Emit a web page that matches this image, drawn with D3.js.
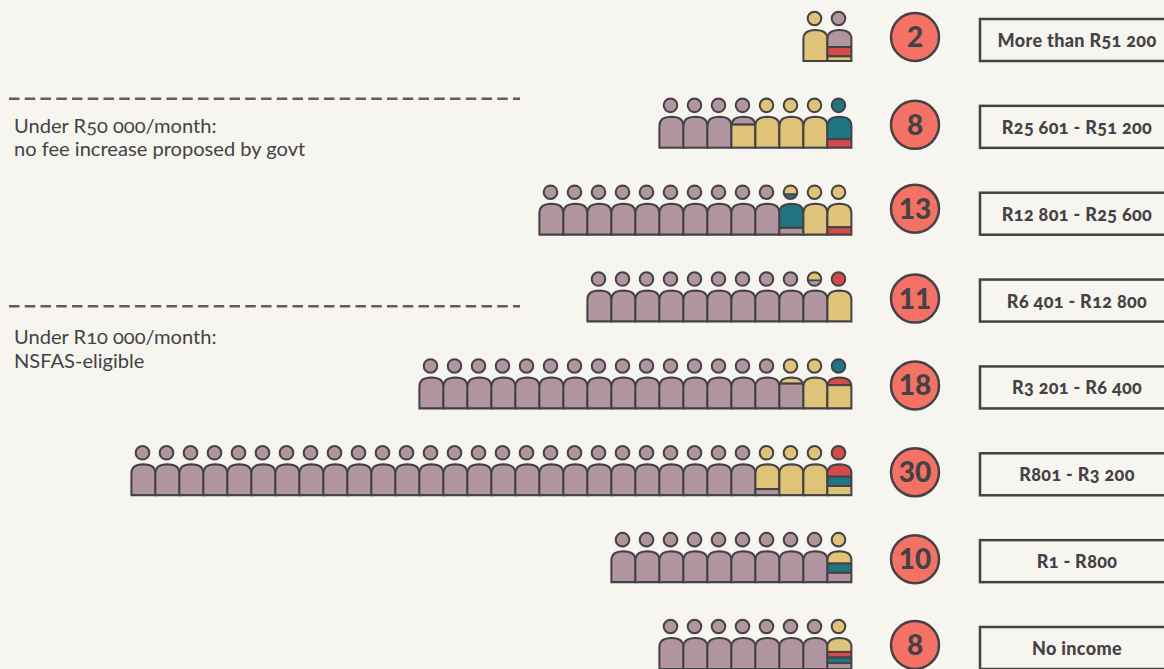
<!DOCTYPE html>
<html>
<head>
<meta charset="utf-8">
<script src="https://cdn.jsdelivr.net/npm/d3@7"></script>
<style>
    html, body { margin: 0; padding: 0; background: #f6f5f0; overflow: hidden; }
    svg { display: block; font-family: Lato, "Open Sans", sans-serif; }
    .old { font-feature-settings: "onum" 1; font-variant-numeric: oldstyle-nums; }
</style>
</head>
<body>
<svg id="chart" width="1164" height="669" viewBox="0 0 1164 669"></svg>
<script>
const incomeLabels = ["More than R51 200", "R25 601 - R51 200", "R12 801 - R25 600", "R6 401 - R12 800",
    "R3 201 - R6 400", "R801 - R3 200", "R1 - R800", "No income"]
const counts = [2, 8, 13, 11, 18, 30, 10, 8]

// runs of [colour, how many people], filled person by person, top to bottom
const bodyRuns = [
    [["y", 1], ["m", 0.55], ["r", 0.3], ["y", 0.15]],
    [["m", 3.25], ["y", 3.75], ["t", 0.72], ["r", 0.28]],
    [["m", 10], ["t", 0.78], ["m", 0.22], ["y", 1.76], ["r", 0.24]],
    [["m", 10], ["y", 1]],
    [["m", 15], ["y", 0.2], ["m", 0.8], ["y", 1], ["r", 0.25], ["y", 0.75]],
    [["m", 26], ["y", 0.8], ["m", 0.2], ["y", 2], ["r", 0.4], ["t", 0.3], ["y", 0.3]],
    [["m", 9], ["y", 0.4], ["t", 0.3], ["m", 0.3]],
    [["m", 7], ["y", 0.45], ["r", 0.18], ["t", 0.18], ["m", 0.19]]
]
const headRuns = [
    [["y", 1], ["m", 1]],
    [["m", 4], ["y", 3], ["t", 1]],
    [["m", 10], ["y", 0.65], ["t", 0.35], ["y", 2]],
    [["m", 9], ["y", 0.6], ["m", 0.4], ["r", 1]],
    [["m", 15], ["y", 2], ["t", 1]],
    [["m", 26], ["y", 3], ["r", 1]],
    [["m", 9], ["y", 1]],
    [["m", 7], ["y", 1]]
]
const notes = [
    ["Under R50 000/month:", "no fee increase proposed by govt"],
    ["Under R10 000/month:", "NSFAS-eligible"]
]

const palette = { m: "#b195a1", y: "#dfc379", t: "#217583", r: "#d54b4b" }
const ink = "#444244"

// layout
const noteLineY = [98.8, 306.2]
const noteTextGap = [34, 38]
const badgeNudge = [-1, 0, -3, 0, 0, 0, 0, -1]

const svg = d3.select("#chart")
const width = 1164, height = 669

svg.append("rect").attr("width", width).attr("height", height).attr("fill", "#f6f5f0")

const scale_row = d3.scaleLinear().domain([0, 7]).range([61, 669])   // body bottoms
const scale_person = d3.scaleLinear().domain([0, 30]).range([851, 131])  // people counted from the right
const personW = scale_person(0) - scale_person(1)
const bodyH = 31, headR = 6.8, headGap = 42.5
const scale_body = d3.scaleLinear().domain([0, 1]).range([0, bodyH])
const scale_head = d3.scaleLinear().domain([0, 1]).range([-headR, headR])

const bodyPath = `M0,${bodyH}V9C0,3 4,0 12,0C20,0 24,3 24,9V${bodyH}Z`

const defs = svg.append("defs")
defs.append("clipPath").attr("id", "bodyClip").append("path").attr("d", bodyPath)
defs.append("clipPath").attr("id", "headClip").append("circle").attr("r", headR)

// turn runs into one list of pieces per person
function splitRuns(runs)
{
    const pieces = []
    let pos = 0
    runs.forEach(([color, amount]) => {
        while (amount > 0.001) {
            const person = Math.floor(pos + 0.001)
            const take = Math.min(amount, person + 1 - pos)
            pieces.push({ person, color, from: pos - person, to: pos - person + take })
            pos += take
            amount -= take
        }
    })
    return pieces
}

const rows = svg.selectAll(".row")
    .data(counts)
    .enter()
    .append("g")
    .attr("class", "row")
    .attr("transform", (d, i) => `translate(0,${scale_row(i)})`)

rows.each(function (n, i) {
    const row = d3.select(this)
    const left = p => scale_person(n - p)

    const bodies = row.selectAll(".body")
        .data(d3.range(n))
        .enter()
        .append("g")
        .attr("class", "body")
        .attr("transform", p => `translate(${left(p) + 0.4},${-bodyH})`)

    const bodyPieces = splitRuns(bodyRuns[i])
    bodies.append("g")
        .attr("clip-path", "url(#bodyClip)")
        .selectAll("rect")
        .data(p => bodyPieces.filter(d => d.person == p))
        .enter()
        .append("rect")
        .attr("x", -2)
        .attr("width", personW + 4)
        .attr("y", d => scale_body(d.from))
        .attr("height", d => scale_body(d.to) - scale_body(d.from))
        .attr("fill", d => palette[d.color])
        .attr("stroke", ink)
        .attr("stroke-width", 2)

    bodies.append("path")
        .attr("d", bodyPath)
        .attr("fill", "none")
        .attr("stroke", ink)
        .attr("stroke-width", 2)

    const heads = row.selectAll(".head")
        .data(d3.range(n))
        .enter()
        .append("g")
        .attr("class", "head")
        .attr("transform", p => `translate(${left(p) + personW / 2 - 0.5},${-headGap})`)

    const headPieces = splitRuns(headRuns[i])
    heads.append("g")
        .attr("clip-path", "url(#headClip)")
        .selectAll("rect")
        .data(p => headPieces.filter(d => d.person == p))
        .enter()
        .append("rect")
        .attr("x", -headR - 2)
        .attr("width", headR * 2 + 4)
        .attr("y", d => scale_head(d.from))
        .attr("height", d => scale_head(d.to) - scale_head(d.from))
        .attr("fill", d => palette[d.color])
        .attr("stroke", ink)
        .attr("stroke-width", 1.5)

    heads.append("circle")
        .attr("r", headR)
        .attr("fill", "none")
        .attr("stroke", ink)
        .attr("stroke-width", 2)

    // count badge
    const badge = row.append("g").attr("transform", `translate(915,${-23 + badgeNudge[i]})`)

    badge.append("circle")
        .attr("r", 24)
        .attr("fill", "#f47265")
        .attr("stroke", ink)
        .attr("stroke-width", 2.5)

    badge.append("text")
        .attr("y", 10)
        .attr("text-anchor", "middle")
        .attr("font-size", 28)
        .attr("font-weight", 900)
        .attr("fill", ink)
        .text(n)

    // income box
    row.append("rect")
        .attr("x", 980)
        .attr("y", -42)
        .attr("width", 200)
        .attr("height", 42)
        .attr("fill", "none")
        .attr("stroke", ink)
        .attr("stroke-width", 2.5)

    row.append("text")
        .attr("class", "old")
        .attr("x", 1077)
        .attr("y", -14)
        .attr("text-anchor", "middle")
        .attr("font-size", 18)
        .attr("letter-spacing", 0.35)
        .attr("font-weight", 900)
        .attr("fill", ink)
        .text(incomeLabels[i])
})

// threshold notes
const noteGroups = svg.selectAll(".note")
    .data(notes)
    .enter()
    .append("g")
    .attr("class", "note")
    .attr("transform", (d, i) => `translate(0,${noteLineY[i]})`)

noteGroups.append("line")
    .attr("x1", 9)
    .attr("x2", 520)
    .attr("stroke", "#6d5660")
    .attr("stroke-width", 2.4)
    .attr("stroke-dasharray", "10.5 5.25")

noteGroups.each(function (lines, k) {
    d3.select(this).selectAll("text")
        .data(lines)
        .enter()
        .append("text")
        .attr("class", "old")
        .attr("x", 14)
        .attr("y", (d, i) => noteTextGap[k] + i * 23.5)
        .attr("font-size", 20.1)
        .attr("fill", ink)
        .text(d => d)
})
</script>
</body>
</html>
